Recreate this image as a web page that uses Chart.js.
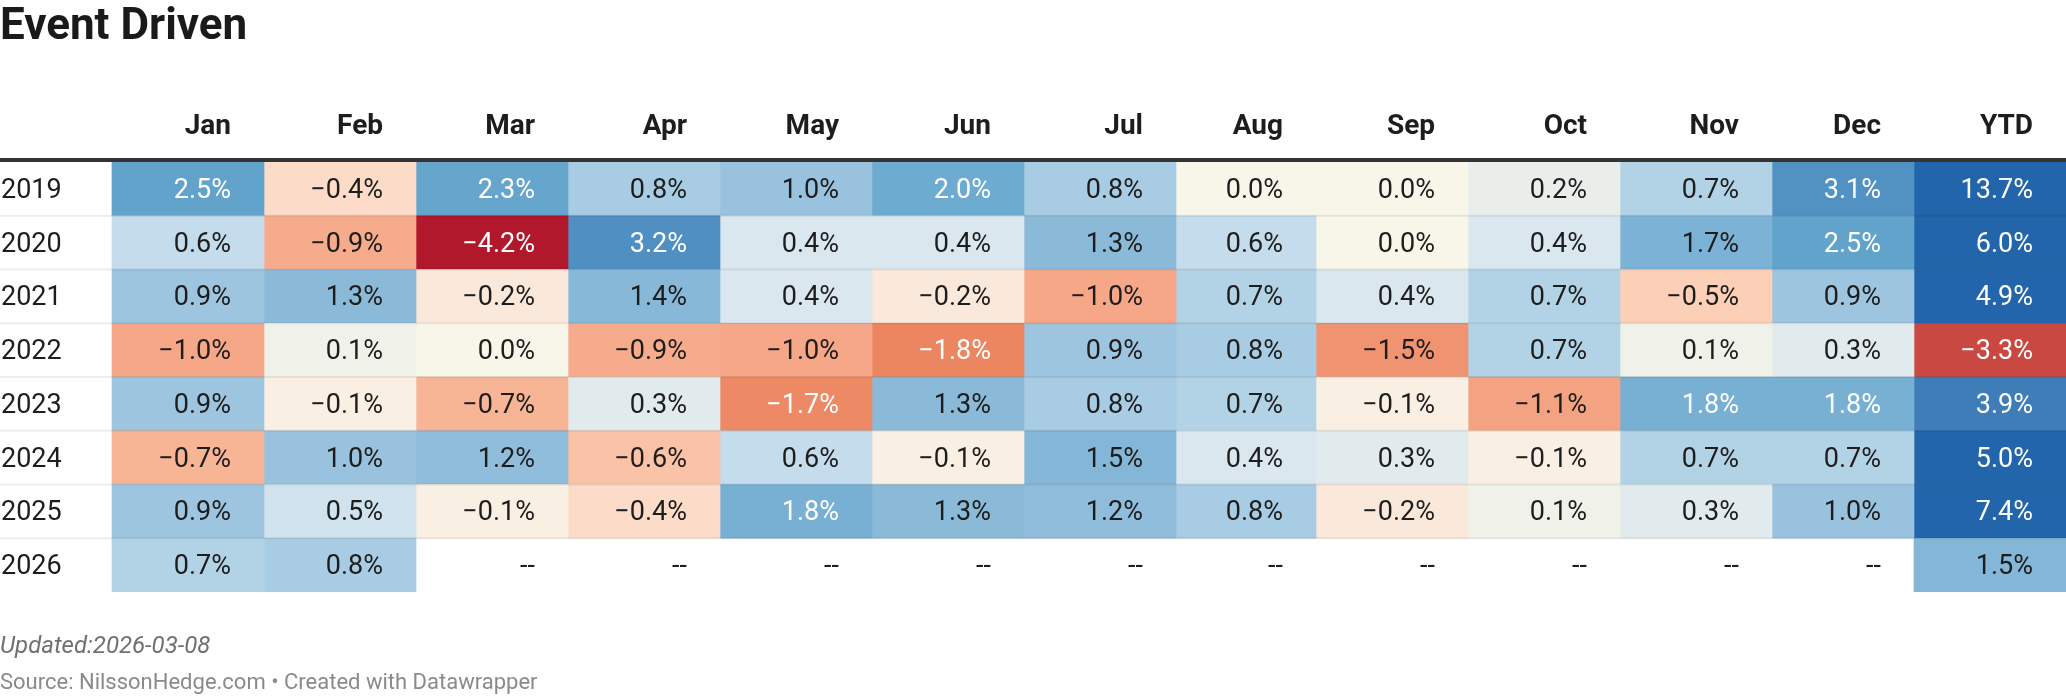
<!DOCTYPE html>
<html>
<head>
<meta charset="utf-8">
<title>Event Driven</title>
<script src="https://cdn.jsdelivr.net/npm/chart.js@4.4.1/dist/chart.umd.min.js"></script>
<style>
    html, body { margin: 0; padding: 0; background: #fff; }
    #wrap { position: relative; width: 2066px; height: 696px; overflow: hidden; font-family: Roboto, "Noto Sans", sans-serif; }
    #heatmap { position: absolute; left: 0; top: 0; }
    .title { position: absolute; left: 0; top: 2px; font-size: 44px; line-height: 44px; font-weight: 700; color: #1a1a1a; white-space: nowrap; }
    .updated { position: absolute; left: 0; top: 633px; font-size: 24px; line-height: 24px; font-style: italic; color: #707070; white-space: nowrap; }
    .source { position: absolute; left: 0; top: 671px; font-size: 22px; line-height: 22px; color: #8a8a8a; white-space: nowrap; }
</style>
</head>
<body>
<div id="wrap">
    <canvas id="heatmap" width="2066" height="696"></canvas>
    <div class="title">Event Driven</div>
    <div class="updated">Updated:2026-03-08</div>
    <div class="source">Source: NilssonHedge.com • Created with Datawrapper</div>
</div>
<script>
// columns and rows
const columns = ["Jan", "Feb", "Mar", "Apr", "May", "Jun", "Jul", "Aug", "Sep", "Oct", "Nov", "Dec", "YTD"];
const years = ["2019", "2020", "2021", "2022", "2023", "2024", "2025", "2026"];

// monthly returns in %, last value is YTD
const r2019 = [2.5, -0.4, 2.3, 0.8, 1.0, 2.0, 0.8, 0.0, 0.0, 0.2, 0.7, 3.1, 13.7];
const r2020 = [0.6, -0.9, -4.2, 3.2, 0.4, 0.4, 1.3, 0.6, 0.0, 0.4, 1.7, 2.5, 6.0];
const r2021 = [0.9, 1.3, -0.2, 1.4, 0.4, -0.2, -1.0, 0.7, 0.4, 0.7, -0.5, 0.9, 4.9];
const r2022 = [-1.0, 0.1, 0.0, -0.9, -1.0, -1.8, 0.9, 0.8, -1.5, 0.7, 0.1, 0.3, -3.3];
const r2023 = [0.9, -0.1, -0.7, 0.3, -1.7, 1.3, 0.8, 0.7, -0.1, -1.1, 1.8, 1.8, 3.9];
const r2024 = [-0.7, 1.0, 1.2, -0.6, 0.6, -0.1, 1.5, 0.4, 0.3, -0.1, 0.7, 0.7, 5.0];
const r2025 = [0.9, 0.5, -0.1, -0.4, 1.8, 1.3, 1.2, 0.8, -0.2, 0.1, 0.3, 1.0, 7.4];
const r2026 = [0.7, 0.8, null, null, null, null, null, null, null, null, null, null, 1.5];

const rows = [r2019, r2020, r2021, r2022, r2023, r2024, r2025, r2026];

// layout (pixels)
const labelColWidth = 112;
const colWidths = [152, 152, 152, 152, 152, 152, 152, 140, 152, 152, 152, 142, 152];
const textPadRight = 33;

// colour scale, RdBu-like
const colorStops = [
    [-4.2, "#b2182b"], [-3.3, "#ca4842"], [-1.8, "#ec8660"], [-1.5, "#f09370"],
    [-1.0, "#f5a787"], [-0.7, "#f8b596"], [-0.5, "#fccfb7"], [-0.4, "#fcdbc8"],
    [-0.2, "#fae8da"], [-0.1, "#f9efe2"], [0.0, "#f7f6e9"], [0.1, "#f0f2ea"],
    [0.3, "#e1eaec"], [0.4, "#dae7ef"], [0.6, "#c4dcec"], [0.7, "#b2d3e6"],
    [0.9, "#9dc5df"], [1.3, "#8bbad9"], [1.8, "#78b0d4"], [2.0, "#6dabd0"],
    [2.5, "#62a3cb"], [3.2, "#4f8fc2"], [3.9, "#3e7db8"], [4.9, "#2265ab"]
];

function hexToRgb(h) {
    return [parseInt(h.slice(1, 3), 16), parseInt(h.slice(3, 5), 16), parseInt(h.slice(5, 7), 16)];
}

function colorFor(v) {
    if (v <= colorStops[0][0]) return colorStops[0][1];
    const last = colorStops[colorStops.length - 1];
    if (v >= last[0]) return last[1];
    for (let i = 0; i < colorStops.length - 1; i++) {
        const a = colorStops[i], b = colorStops[i + 1];
        if (v >= a[0] && v <= b[0]) {
            const t = (v - a[0]) / (b[0] - a[0]);
            const ca = hexToRgb(a[1]), cb = hexToRgb(b[1]);
            const c = ca.map((x, k) => Math.round(x + (cb[k] - x) * t));
            return "rgb(" + c.join(",") + ")";
        }
    }
    return last[1];
}

function textColorFor(v) {
    return (v >= 1.75 || v <= -1.6) ? "#ffffff" : "#1d1d1d";
}

function fmt(v) {
    if (v === null) return "--";
    const s = Math.abs(v).toFixed(1) + "%";
    return v < 0 ? "\u2212" + s : s;
}

// column edges
const edges = [labelColWidth];
colWidths.forEach(function (w) { edges.push(edges[edges.length - 1] + w); });

const datasets = columns.map(function (name, j) {
    return {
        label: name,
        data: rows.map(function (r) { return r[j] === null ? null : [edges[j], edges[j + 1]]; }),
        backgroundColor: rows.map(function (r) { return r[j] === null ? "rgba(0,0,0,0)" : colorFor(r[j]); }),
        borderWidth: 0,
        borderSkipped: false,
        barPercentage: 1,
        categoryPercentage: 1,
        grouped: false
    };
});

const tablePlugin = {
    id: "tableText",
    afterDatasetsDraw: function (chart) {
        const ctx = chart.ctx;
        const x = chart.scales.x;
        const y = chart.scales.y;
        const rowH = y.height / years.length;

        // row separators
        ctx.save();
        ctx.fillStyle = "rgba(0,0,0,0.07)";
        for (let i = 1; i < years.length; i++) {
            const yy = y.getPixelForValue(i) - rowH / 2;
            ctx.fillRect(x.getPixelForValue(0), yy - 1, x.getPixelForValue(2066) - x.getPixelForValue(0), 2);
        }
        ctx.restore();

        // cell values
        ctx.save();
        ctx.font = "400 27px Roboto";
        ctx.textAlign = "right";
        ctx.textBaseline = "alphabetic";
        rows.forEach(function (r, i) {
            const cy = y.getPixelForValue(i) + 9;
            r.forEach(function (v, j) {
                ctx.fillStyle = v === null ? "#1d1d1d" : textColorFor(v);
                ctx.fillText(fmt(v), x.getPixelForValue(edges[j + 1]) - textPadRight, cy);
            });
        });

        // year labels
        ctx.textAlign = "left";
        ctx.fillStyle = "#1d1d1d";
        years.forEach(function (yr, i) {
            ctx.fillText(yr, x.getPixelForValue(0) + 1, y.getPixelForValue(i) + 9);
        });
        ctx.restore();
    },
    afterDraw: function (chart) {
        const ctx = chart.ctx;
        const x = chart.scales.x;
        const top = chart.chartArea.top;
        ctx.save();
        // header rule
        ctx.fillStyle = "#333333";
        ctx.fillRect(x.getPixelForValue(0), top - 4, x.getPixelForValue(2066) - x.getPixelForValue(0), 4);
        // column headers
        ctx.font = "700 28px Roboto";
        ctx.textAlign = "right";
        ctx.textBaseline = "alphabetic";
        ctx.fillStyle = "#1d1d1d";
        columns.forEach(function (name, j) {
            ctx.fillText(name, x.getPixelForValue(edges[j + 1]) - textPadRight, top - 28);
        });
        ctx.restore();
    }
};

new Chart(document.getElementById("heatmap"), {
    type: "bar",
    data: {
        labels: years,
        datasets: datasets
    },
    options: {
        indexAxis: "y",
        responsive: false,
        animation: false,
        layout: {
            padding: { top: 162, bottom: 104, left: 0, right: 0 }
        },
        plugins: {
            legend: { display: false },
            tooltip: { enabled: false }
        },
        scales: {
            x: { type: "linear", min: 0, max: 2066, display: false },
            y: { type: "category", display: false, grid: { display: false } }
        }
    },
    plugins: [tablePlugin]
});
</script>
</body>
</html>
